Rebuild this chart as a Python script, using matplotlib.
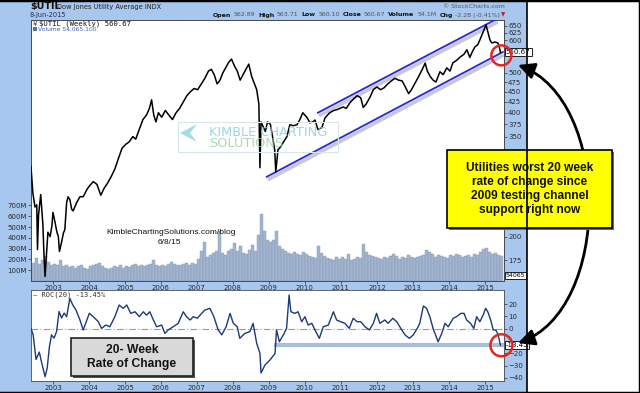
import matplotlib
matplotlib.use("Agg")
import matplotlib.pyplot as plt
import matplotlib.transforms as mtransforms
from matplotlib.patches import Rectangle, Ellipse, FancyArrowPatch, Polygon
from matplotlib.path import Path
from matplotlib.lines import Line2D
from matplotlib.ticker import NullLocator, NullFormatter

# $UTIL weekly closes (decimal years)
price_years = [
    2002.39, 2002.44, 2002.50, 2002.55, 2002.57, 2002.60, 2002.66, 2002.69, 2002.72, 2002.75, 2002.78, 2002.83, 2002.86, 2002.92, 2002.97,
    2003.00, 2003.06, 2003.11, 2003.15, 2003.18, 2003.24, 2003.29, 2003.33, 2003.38, 2003.42, 2003.47, 2003.52, 2003.56, 2003.66, 2003.75, 2003.84, 2003.94,
    2004.02, 2004.12, 2004.22, 2004.33, 2004.42, 2004.52, 2004.62, 2004.72, 2004.82, 2004.92,
    2005.02, 2005.12, 2005.22, 2005.30, 2005.40, 2005.50, 2005.60, 2005.68, 2005.74, 2005.80, 2005.86, 2005.93,
    2006.02, 2006.12, 2006.22, 2006.32, 2006.42, 2006.52, 2006.62, 2006.72, 2006.82, 2006.92,
    2007.02, 2007.12, 2007.22, 2007.32, 2007.40, 2007.48, 2007.56, 2007.64, 2007.72, 2007.80, 2007.88, 2007.96,
    2008.04, 2008.12, 2008.20, 2008.28, 2008.36, 2008.44, 2008.52, 2008.60, 2008.66, 2008.72, 2008.75, 2008.78, 2008.84, 2008.90, 2008.96,
    2009.04, 2009.10, 2009.16, 2009.19, 2009.25, 2009.32, 2009.39, 2009.50, 2009.58, 2009.68, 2009.78, 2009.86, 2009.94,
    2010.06, 2010.14, 2010.22, 2010.28, 2010.36, 2010.47, 2010.56, 2010.69, 2010.80, 2010.89,
    2011.06, 2011.15, 2011.25, 2011.35, 2011.45, 2011.55, 2011.62, 2011.70, 2011.80, 2011.90,
    2012.00, 2012.10, 2012.20, 2012.30, 2012.40, 2012.50, 2012.60, 2012.70, 2012.80, 2012.88, 2012.96,
    2013.06, 2013.16, 2013.26, 2013.34, 2013.40, 2013.48, 2013.56, 2013.64, 2013.75, 2013.84, 2013.94,
    2014.03, 2014.11, 2014.20, 2014.31, 2014.42, 2014.50, 2014.58, 2014.64, 2014.72, 2014.80, 2014.86, 2014.94,
    2015.03, 2015.08, 2015.14, 2015.19, 2015.28, 2015.36, 2015.40, 2015.43,
]
price_vals = [
    296, 256, 236, 239, 186, 226, 253, 233, 214, 181, 160, 186, 205, 200, 212,
    229, 216, 205, 200, 184, 194, 204, 208, 242, 250, 246, 233, 231, 242, 250, 250, 260,
    266, 272, 268, 252, 262, 270, 280, 292, 310, 328,
    335, 340, 350, 345, 365, 385, 395, 410, 430, 395, 380, 400,
    390, 405, 395, 385, 400, 410, 425, 440, 450, 458,
    455, 470, 485, 505, 510, 495, 470, 480, 500, 515, 530, 540,
    520, 505, 480, 495, 510, 525, 490, 470, 455, 420, 294, 380, 370, 360, 380,
    375, 350, 325, 287, 325, 330, 338, 350, 374, 372, 374, 385, 400,
    389, 378, 380, 384, 364, 368, 389, 400, 405, 407,
    413, 410, 423, 432, 440, 435, 412, 420, 435, 455,
    462, 455, 460, 470, 478, 485, 480, 478, 460, 445, 455,
    472, 490, 510, 528, 505, 490, 480, 475, 503, 495, 514,
    505, 529, 535, 546, 555, 569, 545, 560, 578, 585, 601, 625,
    654, 629, 601, 591, 594, 591, 578, 560.67,
]

# ROC(20)
roc_years = [
    2002.39, 2002.45, 2002.53, 2002.62, 2002.69, 2002.78, 2002.84, 2002.90, 2002.96,
    2003.03, 2003.10, 2003.17, 2003.24, 2003.31, 2003.38, 2003.47, 2003.55, 2003.64, 2003.75, 2003.84, 2003.94,
    2004.01, 2004.12, 2004.26, 2004.35, 2004.47, 2004.58, 2004.72, 2004.84, 2004.95,
    2005.05, 2005.16, 2005.28, 2005.40, 2005.51, 2005.60, 2005.69, 2005.79, 2005.88,
    2006.02, 2006.11, 2006.20, 2006.34, 2006.48, 2006.62, 2006.71, 2006.81, 2006.90,
    2007.01, 2007.13, 2007.22, 2007.36, 2007.47, 2007.59, 2007.69, 2007.81, 2007.92,
    2008.01, 2008.12, 2008.19, 2008.33, 2008.47, 2008.56, 2008.66, 2008.75, 2008.78, 2008.89,
    2009.03, 2009.17, 2009.21, 2009.29, 2009.40, 2009.49, 2009.56, 2009.61, 2009.72, 2009.81, 2009.91,
    2010.00, 2010.09, 2010.19, 2010.28, 2010.40, 2010.51, 2010.65, 2010.79, 2010.88, 2010.99,
    2011.11, 2011.23, 2011.34, 2011.45, 2011.55, 2011.67, 2011.79, 2011.90, 2011.99,
    2012.08, 2012.22, 2012.31, 2012.44, 2012.55, 2012.69, 2012.78, 2012.90,
    2013.01, 2013.12, 2013.19, 2013.29, 2013.38, 2013.47, 2013.56, 2013.70, 2013.80, 2013.89, 2013.98,
    2014.12, 2014.21, 2014.33, 2014.42, 2014.49, 2014.60, 2014.69, 2014.77, 2014.86, 2014.95,
    2015.02, 2015.08, 2015.16, 2015.23, 2015.30, 2015.35, 2015.39, 2015.43,
]
roc_vals = [
    0.3, -5, -25, -19, -28, -39, -32, -15, -5,
    -7.6, -2.4, 14, 8.7, 12.7, 9.8, 24.7, 19.3, 15.2, 7.1, -1, 7,
    12.5, 9.8, 5.7, 0.3, 3, 1.6, 9.8, 19.3, 16.6,
    19.3, 12.5, 13.8, 9.8, 13.8, 11.1, 13.8, 7.1, 1.6,
    3, -3.8, -1, 1.6, 4.4, 13.8, 9.8, 7.1, 9.8,
    8.5, 12.5, 15.2, 16.6, 9.8, -1, -5, 1.6, 12.5,
    4.4, 1.6, -7.8, -3.8, -2.4, 4.4, -11.9, -20, -36, -29.5,
    -25.4, -20, -1, -10.6, -5, 0.3, 27.4, 13.8, 12.5, 13.8, 5.7,
    9.8, 3, 4.4, -1, -7.8, 1.6, 3, 13.8, 7.1, 5.7,
    4.4, 0.3, 8.5, 5.7, 5.7, 1.6, -1, 4.4, 12.5,
    4.4, 7.1, 4.4, 8.5, 5.7, -1, -5, -7.8,
    -5, 0.3, 4.4, 18.5, 16.6, 9.8, 0.3, -10.6, -3.8, 4.4, 1.6,
    8.5, 9.8, 12.5, 12.5, 7.1, 4.4, 0.3, 9.8, 5.7, 11.1,
    16.6, 13.8, 7.1, -1, -1, -3.8, -7.8, -13.45,
]

# monthly volume (millions), Jun 2002 .. Jun 2015
vol_first = (2002, 6)
volume = [
    170, 210, 160, 190, 230, 180, 150,
    160, 150, 190, 140, 150, 130, 140, 125, 135, 145, 120, 115,
    135, 145, 155, 165, 135, 125, 115, 125, 135, 130, 150, 125,
    135, 130, 150, 155, 140, 145, 135, 150, 160, 190, 150, 135,
    150, 140, 160, 175, 160, 150, 145, 160, 165, 150, 170, 155,
    200, 280, 360, 220, 240, 260, 280, 460, 260, 240, 280, 300,
    350, 280, 320, 260, 250, 290, 330, 280, 430, 620, 460, 380,
    360, 380, 460, 320, 300, 280, 260, 250, 270, 250, 240, 270,
    250, 230, 220, 210, 320, 260, 230, 210, 200, 190, 220, 200,
    220, 200, 250, 190, 200, 220, 210, 340, 270, 240, 230, 220,
    210, 200, 220, 210, 230, 250, 230, 200, 220, 210, 240, 220,
    210, 220, 230, 240, 290, 270, 250, 220, 240, 230, 220, 210,
    240, 230, 250, 240, 220, 230, 240, 220, 250, 240, 270, 300,
    310, 270, 250, 260, 240, 230,
]

year_ticks = list(range(2003, 2016))
# labels hidden by the callout / value tags are left out
price_ticks = [175, 200, 350, 375, 400, 425, 450, 475, 500, 600, 625, 650]
vol_ticks = [100, 200, 300, 400, 500, 600, 700]
roc_ticks = [20, 10, 0, -20, -30, -40]

# channel drawn on the chart (year, price) end points
chan_low_x, chan_low_y = [2008.94, 2015.50], [279.5, 562]
chan_high_x, chan_high_y = [2010.36, 2015.33], [400, 676]
support_from = 2009.20

last_close = 560.67
last_roc = -13.45
last_vol = 54.065

# ---- layout (pixel helpers) ----
W, H = 640, 393
BLUE = "#a8c7ee"
TXT = "#2a2a2a"


def fx(x):
    return x / W


def fy(y):
    return 1 - y / H


def rect(x0, y0, x1, y1):
    return [fx(x0), fy(y1), fx(x1) - fx(x0), fy(y0) - fy(y1)]


fig = plt.figure(figsize=(W / 100, H / 100), dpi=100)
fig.patch.set_facecolor("white")
fig.add_artist(Rectangle((0, 0), fx(527), 1, transform=fig.transFigure,
                         fc=BLUE, ec="none", zorder=-2))

ax_v = fig.add_axes(rect(31, 20, 504, 281))
ax_p = ax_v.twinx()
ax_r = fig.add_axes(rect(31, 290, 504, 381))

xlim = (2002.39, 2015.53)

# volume
y0, m0 = vol_first
vx = [y0 + (m0 - 1 + i + 0.5) / 12 for i in range(len(volume))]
ax_v.bar(vx, volume, width=0.85 / 12, color="#a2b4ce", edgecolor="#8599b8", linewidth=0.3)
ax_v.set_ylim(0, 2417)
ax_v.set_xlim(*xlim)
ax_v.set_yticks(vol_ticks)
ax_v.set_yticklabels([f"{v}M" for v in vol_ticks])

# price
ax_p.set_yscale("log")
ax_p.set_ylim(156, 672)
ax_p.set_xlim(*xlim)
shadow = mtransforms.offset_copy(ax_p.transData, fig=fig, x=1, y=-3, units="dots")
for cx, cy in [(chan_low_x, chan_low_y), (chan_high_x, chan_high_y)]:
    ax_p.plot(cx, cy, color="#c8c8d4", lw=2.6, transform=shadow, zorder=2, solid_capstyle="butt")
    ax_p.plot(cx, cy, color="#2727d6", lw=1.3, zorder=3)
ax_p.plot(price_years, price_vals, color="black", lw=1.1, zorder=4)
ax_p.set_yticks(price_ticks)
ax_p.set_yticklabels([str(t) for t in price_ticks])
ax_p.yaxis.set_minor_locator(NullLocator())
ax_p.yaxis.set_minor_formatter(NullFormatter())

# ROC panel
ax_r.axhline(0, color="#9b9b9b", lw=0.8, ls=(0, (6, 2, 1, 2)), zorder=1)
ax_r.plot([support_from, xlim[1]], [last_roc, last_roc], color="#a7bedf", lw=3, zorder=2)
ax_r.plot(roc_years, roc_vals, color="#1d3a78", lw=1.0, zorder=3)
ax_r.set_xlim(*xlim)
ax_r.set_ylim(-42.5, 31.5)
ax_r.yaxis.tick_right()
ax_r.set_yticks(roc_ticks)

for a in (ax_v, ax_r):
    a.set_xticks(year_ticks)
    a.set_xticklabels([str(y) for y in year_ticks])
for a in (ax_v, ax_p, ax_r):
    a.tick_params(labelsize=5, length=2, width=0.5, pad=1, colors=TXT)
    for s in a.spines.values():
        s.set_color("#4a4a4a")
        s.set_linewidth(0.6)

# last value tags
tag = dict(fc="white", ec="black", lw=0.6, boxstyle="square,pad=0.15")
ax_p.text(1.004, last_close, f"{last_close:.2f}", fontsize=5, va="center", ha="left",
          transform=mtransforms.blended_transform_factory(ax_p.transAxes, ax_p.transData),
          bbox=tag, zorder=10, clip_on=False)
ax_v.text(1.004, last_vol, "54065", fontsize=4.5, va="center", ha="left",
          transform=mtransforms.blended_transform_factory(ax_v.transAxes, ax_v.transData),
          bbox=tag, zorder=10, clip_on=False)
ax_r.text(1.004, last_roc, f"{last_roc:.2f}", fontsize=5, va="center", ha="left",
          transform=mtransforms.blended_transform_factory(ax_r.transAxes, ax_r.transData),
          bbox=tag, zorder=10, clip_on=False)

# header
fig.text(fx(30), fy(7), "$UTIL", fontsize=6.8, fontweight="bold", va="center", color="#111")
fig.text(fx(57), fy(7), "Dow Jones Utility Average INDX", fontsize=4.8, va="center", color="#222")
fig.text(fx(30), fy(15), "8-Jun-2015", fontsize=4.8, va="center", color="#1f2f55")
fig.text(fx(505), fy(6), "\u00a9 StockCharts.com", fontsize=4.5, va="center", ha="right", color="#555")

pieces = [("Open", True), ("562.89", False), ("High", True), ("563.71", False),
          ("Low", True), ("560.10", False), ("Close", True), ("560.67", False),
          ("Volume", True), ("54.1M", False), ("Chg", True), ("-2.28 (-0.41%)", False)]
renderer = fig.canvas.get_renderer()
xr = fx(500)
fig.text(fx(505), fy(15), "\u25bc", fontsize=4, color="#c0202a", ha="right", va="center")
for s, bold in reversed(pieces):
    t = fig.text(xr, fy(15), s, fontsize=4.5, fontweight="bold" if bold else "normal",
                 color="#111" if bold else "#555", ha="right", va="center")
    bb = t.get_window_extent(renderer)
    xr -= (bb.width + (3 if bold else 2.5)) / W

# legends
fig.text(fx(39), fy(23.5), "$UTIL (Weekly) 560.67", fontsize=5.2, family="DejaVu Sans Mono",
         va="center", color="#111")
fig.text(fx(33), fy(23.5), "\u00a5", fontsize=5, va="center", color="#333")
fig.add_artist(Rectangle((fx(33), fy(31)), 4 / W, 4 / H, transform=fig.transFigure,
                         fc="#4a78c0", ec="none"))
fig.text(fx(38), fy(29), "Volume 54,065,100", fontsize=4.3, va="center", color="#3a64b0")
fig.text(fx(33), fy(295), "\u2014 ROC(20) -13.45%", fontsize=5, family="DejaVu Sans Mono",
         va="center", color="#333")

# watermark
fig.add_artist(Rectangle((fx(178), fy(152)), 160 / W, 30 / H, transform=fig.transFigure,
                         fill=False, ec="#d6e6ea", lw=0.8, zorder=5))
fig.add_artist(Polygon([(fx(197), fy(124)), (fx(180), fy(133)), (fx(197), fy(142)), (fx(190), fy(133))],
                       closed=True, transform=fig.transFigure, fc="#7fcfd8", ec="none", alpha=0.7, zorder=5))
fig.text(fx(268), fy(132), "KIMBLE CHARTING", fontsize=9.3, color="#86cbe0", alpha=0.8,
         ha="center", va="center", zorder=5)
fig.text(fx(246), fy(143.5), "SOLUTIONS", fontsize=9.3, color="#97d29a", alpha=0.8,
         ha="center", va="center", zorder=5)

fig.text(fx(171), fy(233), "KimbleChartingSolutions.com/blog", fontsize=6, family="Liberation Sans",
         ha="center", va="center", color="#111", zorder=5)
fig.text(fx(169), fy(243), "6/8/15", fontsize=6, family="Liberation Sans",
         ha="center", va="center", color="#111", zorder=5)

# red circles on the latest values
to_fig = fig.transFigure.inverted()
for a, yv, r in [(ax_p, last_close, 10), (ax_r, last_roc, 11)]:
    px, py = a.transData.transform((price_years[-1], yv))
    cx, cy = to_fig.transform((px + 1, py - 3 if a is ax_p else py))
    fig.add_artist(Ellipse((cx, cy), 2 * r / W, 2 * r / H, transform=fig.transFigure,
                           fill=False, ec="#e3261f", lw=1.8, zorder=9))

# curved double arrow
P = lambda x, y: (fx(x), fy(y))
arc = Path([P(518, 65), P(612, 100), P(612, 310), P(518, 343)],
           [Path.MOVETO, Path.CURVE4, Path.CURVE4, Path.CURVE4])
fig.add_artist(FancyArrowPatch(path=arc, arrowstyle="<|-|>,head_length=0.7,head_width=0.35",
                               mutation_scale=14, lw=2, color="black",
                               transform=fig.transFigure, zorder=6))

# yellow callout
fig.add_artist(Rectangle((fx(449), fy(230)), 165 / W, 78 / H, transform=fig.transFigure,
                         fc="#6a6a6a", ec="none", zorder=7))
fig.add_artist(Rectangle((fx(447), fy(228)), 165 / W, 78 / H, transform=fig.transFigure,
                         fc="#ffff00", ec="black", lw=1.2, zorder=7))
fig.text(fx(529.5), fy(189), "Utilities worst 20 week\nrate of change since\n2009 testing channel\nsupport right now",
         fontsize=8.6, fontweight="bold", family="Liberation Sans", ha="center", va="center",
         linespacing=1.25, color="#111", zorder=8)

# grey label in ROC panel
fig.add_artist(Rectangle((fx(73), fy(378)), 122 / W, 38 / H, transform=fig.transFigure,
                         fc="#555555", ec="none", zorder=7))
fig.add_artist(Rectangle((fx(71), fy(376)), 122 / W, 38 / H, transform=fig.transFigure,
                         fc="#d9d9d9", ec="#222", lw=1.2, zorder=7))
fig.text(fx(132), fy(357), "20- Week\nRate of Change", fontsize=8.7, fontweight="bold",
         family="Liberation Sans", ha="center", va="center", linespacing=1.2, color="#111", zorder=8)

# frame
fig.add_artist(Line2D([fx(527), fx(527)], [0, 1], transform=fig.transFigure, color="black", lw=1.2, zorder=20))
for xs, ys in [([0, 1], [1, 1]), ([1, 1], [0, 1]), ([0, 1], [0, 0])]:
    fig.add_artist(Line2D(xs, ys, transform=fig.transFigure, color="black", lw=2.5, zorder=20))

fig.savefig("out.png", dpi=100)
